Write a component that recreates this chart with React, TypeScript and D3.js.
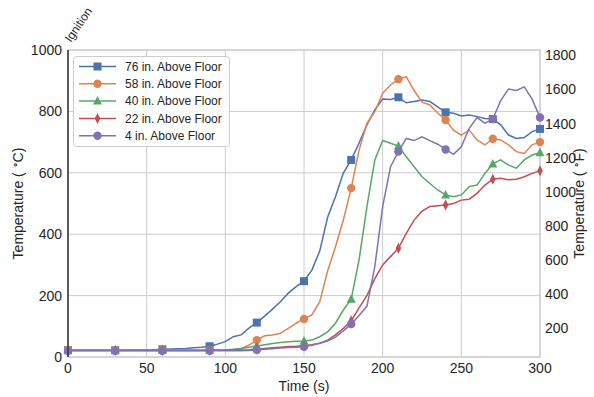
import * as d3 from 'd3';

const times = d3.range(0, 301, 5);

const labels = ['76 in. Above Floor', '58 in. Above Floor', '40 in. Above Floor', '22 in. Above Floor', '4 in. Above Floor'];
const colors = ['#4C72B0', '#DD8452', '#55A868', '#C44E52', '#8172B3'];
const shapes = ['square', 'circle', 'triangle', 'thindiamond', 'circle'];

const temp76 = [22, 22, 22, 22, 22, 22, 22, 22, 23, 23, 23, 24, 25, 26, 27, 28, 30, 32, 35, 42, 50, 66, 72, 94, 112, 133, 156, 180, 208, 229, 247, 283, 345, 455, 522, 599, 642, 697, 756, 805, 840, 839, 846, 828, 832, 837, 832, 815, 797, 794, 785, 788, 783, 777, 775, 756, 723, 712, 715, 734, 743];
const temp58 = [22, 22, 22, 22, 22, 22, 22, 22, 22, 22, 22, 22, 22, 22, 22, 22, 22, 22, 23, 23, 23, 24, 26, 39, 55, 69, 72, 77, 93, 110, 124, 137, 180, 280, 359, 446, 550, 674, 761, 799, 859, 886, 905, 913, 868, 830, 821, 795, 772, 739, 723, 739, 707, 691, 711, 707, 691, 669, 663, 691, 700];
const temp40 = [22, 22, 22, 22, 22, 22, 22, 22, 22, 22, 22, 22, 22, 22, 22, 22, 22, 22, 22, 22, 23, 25, 28, 32, 36, 40, 44, 47, 50, 51, 52, 55, 66, 82, 110, 153, 188, 316, 490, 642, 705, 696, 687, 652, 620, 587, 565, 544, 528, 522, 528, 555, 560, 598, 629, 642, 625, 615, 642, 658, 665];
const temp22 = [21, 21, 21, 21, 21, 21, 21, 21, 21, 21, 21, 21, 21, 21, 21, 21, 21, 21, 22, 22, 22, 22, 23, 24, 26, 28, 30, 32, 34, 35, 37, 40, 45, 55, 72, 93, 118, 160, 200, 255, 300, 327, 354, 403, 446, 475, 490, 493, 495, 500, 511, 514, 533, 560, 579, 582, 577, 579, 587, 598, 607];
const temp4 = [20, 20, 20, 20, 20, 20, 20, 20, 20, 20, 20, 20, 20, 20, 20, 20, 20, 20, 20, 20, 20, 20, 20, 21, 23, 25, 27, 29, 31, 32, 33, 38, 45, 52, 65, 85, 107, 135, 165, 294, 490, 620, 669, 712, 705, 717, 705, 693, 676, 660, 685, 745, 780, 762, 775, 835, 873, 868, 880, 840, 780];

const series = [temp76, temp58, temp40, temp22, temp4];

const xTicks = [0, 50, 100, 150, 200, 250, 300];
const yTicksC = [0, 200, 400, 600, 800, 1000];
const yTicksF = [200, 400, 600, 800, 1000, 1200, 1400, 1600, 1800];

const W = 594;
const H = 397;
const M = { left: 68, right: 540, top: 50, bottom: 357 };
const FONT = '"Liberation Sans", Arial, sans-serif';
const TEXT = '#262626';
const GRID = '#cccccc';

function Marker({ shape, x, y, color }: { shape: string; x: number; y: number; color: string }) {
  if (shape === 'square') return <rect x={x - 4} y={y - 4} width={8} height={8} fill={color} />;
  if (shape === 'triangle') return <path d={`M${x},${y - 5}L${x + 4.5},${y + 3.5}L${x - 4.5},${y + 3.5}Z`} fill={color} />;
  if (shape === 'thindiamond') return <path d={`M${x},${y - 5.5}L${x + 2.8},${y}L${x},${y + 5.5}L${x - 2.8},${y}Z`} fill={color} />;
  return <circle cx={x} cy={y} r={4.2} fill={color} />;
}

export default function App() {
  const x = d3.scaleLinear().domain([0, 300]).range([M.left, M.right]);
  const y = d3.scaleLinear().domain([0, 1000]).range([M.bottom, M.top]);
  const yF = d3.scaleLinear().domain([32, 1832]).range([M.bottom, M.top]);

  const line = d3.line<number>()
    .x((_, i) => x(times[i]))
    .y(d => y(d));

  return (
    <svg width={W} height={H} style={{ position: 'absolute', left: 0, top: 0, background: '#fff' }} fontFamily={FONT}>
      {/* grid */}
      {xTicks.map(t => (
        <line key={'gx' + t} x1={x(t)} x2={x(t)} y1={M.top} y2={M.bottom} stroke={GRID} strokeWidth={1} />
      ))}
      {yTicksC.map(t => (
        <line key={'gy' + t} x1={M.left} x2={M.right} y1={y(t)} y2={y(t)} stroke={GRID} strokeWidth={1} />
      ))}
      <rect x={M.left} y={M.top} width={M.right - M.left} height={M.bottom - M.top} fill="none" stroke={GRID} strokeWidth={1.2} />

      {/* series */}
      {series.map((s, k) => (
        <g key={labels[k]}>
          <path d={line(s) ?? ''} fill="none" stroke={colors[k]} strokeWidth={1.5} />
          {times.map((t, i) => t % 30 === 0 ? (
            <Marker key={t} shape={shapes[k]} x={x(t)} y={y(s[i])} color={colors[k]} />
          ) : null)}
        </g>
      ))}

      {/* ignition */}
      <line x1={x(0)} x2={x(0)} y1={M.top} y2={M.bottom} stroke="#3a3a3a" strokeWidth={1.6} />
      <text transform={`translate(${x(0) + 3},${M.top - 7}) rotate(-56)`} fontSize={12} fill={TEXT}>Ignition</text>

      {/* axes ticks */}
      {xTicks.map(t => (
        <text key={'tx' + t} x={x(t)} y={M.bottom + 16} textAnchor="middle" fontSize={14} fill={TEXT}>{t}</text>
      ))}
      {yTicksC.map(t => (
        <text key={'ty' + t} x={M.left - 6} y={y(t)} dy="0.35em" textAnchor="end" fontSize={14} fill={TEXT}>{t}</text>
      ))}
      {yTicksF.map(t => (
        <text key={'tf' + t} x={M.right + 5} y={yF(t)} dy="0.35em" textAnchor="start" fontSize={14} fill={TEXT}>{t}</text>
      ))}

      <text x={(M.left + M.right) / 2} y={391} textAnchor="middle" fontSize={14} fill={TEXT}>Time (s)</text>
      <text transform={`translate(23,${(M.top + M.bottom) / 2}) rotate(-90)`} textAnchor="middle" fontSize={14} fill={TEXT}>
        Temperature ( <tspan fontSize={10} dy={-5}>∘</tspan><tspan dy={5}>C)</tspan>
      </text>
      <text transform={`translate(584,${(M.top + M.bottom) / 2}) rotate(-90)`} textAnchor="middle" fontSize={14} fill={TEXT}>
        Temperature ( <tspan fontSize={10} dy={-5}>∘</tspan><tspan dy={5}>F)</tspan>
      </text>

      {/* legend */}
      <rect x={73.5} y={56.5} width={156} height={90} rx={3} fill="#fff" fillOpacity={0.85} stroke={GRID} strokeWidth={1} />
      {labels.map((l, k) => {
        const ly = 66.5 + k * 17.3;
        return (
          <g key={'lg' + l}>
            <line x1={79} x2={116} y1={ly} y2={ly} stroke={colors[k]} strokeWidth={1.5} />
            <Marker shape={shapes[k]} x={97.5} y={ly} color={colors[k]} />
            <text x={125} y={ly} dy="0.35em" fontSize={12} fill={TEXT}>{l}</text>
          </g>
        );
      })}
    </svg>
  );
}
